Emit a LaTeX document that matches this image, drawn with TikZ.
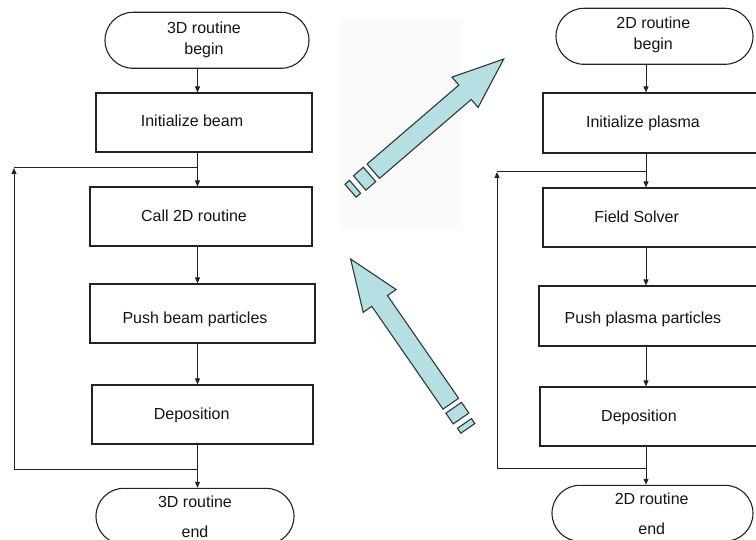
\documentclass[tikz,border=0pt]{standalone}
\usepackage{fontspec}
\setmainfont{Liberation Sans}
\usetikzlibrary{arrows.meta,calc}
\definecolor{ln}{HTML}{222222}
\definecolor{arrfill}{HTML}{B5DFE2}
\definecolor{arrline}{HTML}{2F3838}
\newcommand{\brokenarrow}[1]{%
  \draw[blockarr] (0,-9.5) -- ({#1-51},-9.5) -- ({#1-51},-20) -- (#1,0) -- ({#1-51},20) -- ({#1-51},9.5) -- (0,9.5) -- cycle;
  \draw[blockarr] (-5,-9.5) rectangle (-18,9.5);
  \draw[blockarr] (-24,-8.5) rectangle (-30,8.5);
}
\begin{document}
\begin{tikzpicture}[x=1pt,y=-1pt,
  every node/.style={font=\fontsize{16}{19}\selectfont, text=black!92},
  boxst/.style={draw=ln, line width=1.2pt, rectangle, inner sep=0pt},
  termst/.style={draw=ln, line width=1.1pt, rectangle, rounded corners=28pt, inner sep=0pt, minimum height=56pt},
  lbl/.style={anchor=base, inner sep=0pt},
  flow/.style={draw=ln, line width=1pt, -{Triangle[length=6pt,width=5pt]}},
  plain/.style={draw=ln, line width=1pt},
  blockarr/.style={fill=arrfill, draw=arrline, line width=1.1pt, line join=miter}
]
\useasboundingbox (0,0) rectangle (756,540);
\clip (0,0) rectangle (756,540);
\fill[white] (0,0) rectangle (756,540);
\fill[black!2] (340,20) rectangle (463,230);

% ---- left flowchart (3D)
\node[termst, minimum width=204pt] (t1) at (207,40.3) {};
\node[boxst, minimum width=216pt, minimum height=59pt] (b1) at (204,122.5) {};
\node[boxst, minimum width=222pt, minimum height=59pt] (b2) at (201,216.5) {};
\node[boxst, minimum width=225pt, minimum height=59pt] (b3) at (202.5,313.5) {};
\node[boxst, minimum width=221pt, minimum height=59pt] (b4) at (202.5,414.5) {};
\node[termst, minimum width=198pt] (t2) at (195,516.3) {};

\node[lbl] (t1a) at (204,33.3) {3D routine};
\node[lbl] (t1b) at (204,54.3) {begin};
\node[lbl] (l1) at (192,126.7) {Initialize beam};
\node[lbl] (l2) at (194,221.7) {Call 2D routine};
\node[lbl] (l3) at (195,324) {Push beam particles};
\node[lbl] (l4) at (191.7,420) {Deposition};
\node[lbl] (t2a) at (195,507.3) {3D routine};
\node[lbl] (t2b) at (195,537.3) {end};

\coordinate (cl) at (197.5,0);
\coordinate (j1) at (197.5,168);
\coordinate (j2) at (197.5,469);
\coordinate (lb) at (14,469);
\coordinate (lt) at (14,168);
\draw[flow] (t1.south -| cl) -- (b1.north -| cl);
\draw[plain] (b1.south -| cl) -- (j1);
\draw[flow] (j1) -- (b2.north -| cl);
\draw[flow] (b2.south -| cl) -- (b3.north -| cl);
\draw[flow] (b3.south -| cl) -- (b4.north -| cl);
\draw[plain] (b4.south -| cl) -- (j2);
\draw[flow] (j2) -- (t2.north -| cl);
\draw[flow] (j2) -- (lb) -- (lt);
\draw[plain] (lt) -- (j1);

% ---- right flowchart (2D)
\node[termst, minimum width=197pt] (t3) at (654.5,36.3) {};
\node[boxst, minimum width=217pt, minimum height=60pt] (c1) at (651.5,123) {};
\node[boxst, minimum width=217pt, minimum height=59pt] (c2) at (651.5,217.5) {};
\node[boxst, minimum width=221pt, minimum height=60pt] (c3) at (649.5,316) {};
\node[boxst, minimum width=220pt, minimum height=59pt] (c4) at (650,416.5) {};
\node[termst, minimum width=201pt] (t4) at (652.5,513.3) {};

\node[lbl] (t3a) at (653.3,28.3) {2D routine};
\node[lbl] (t3b) at (653.3,50) {begin};
\node[lbl] (m1) at (643,127.7) {Initialize plasma};
\node[lbl] (m2) at (636.7,222.7) {Field Solver};
\node[lbl] (m3) at (643,324) {Push plasma particles};
\node[lbl] (m4) at (639,421.7) {Deposition};
\node[lbl] (t4a) at (651.7,504.7) {2D routine};
\node[lbl] (t4b) at (651.7,534.7) {end};

\coordinate (cr) at (646,0);
\coordinate (k1) at (646,172);
\coordinate (k2) at (646,468);
\coordinate (rb) at (497,468);
\coordinate (rt) at (497,172);
\draw[flow] (t3.south -| cr) -- (c1.north -| cr);
\draw[plain] (c1.south -| cr) -- (k1);
\draw[flow] (k1) -- (c2.north -| cr);
\draw[flow] (c2.south -| cr) -- (c3.north -| cr);
\draw[flow] (c3.south -| cr) -- (c4.north -| cr);
\draw[plain] (c4.south -| cr) -- (k2);
\draw[flow] (k2) -- (t4.north -| cr);
\draw[flow] (k2) -- (rb) -- (rt);
\draw[plain] (rt) -- (k1);

% ---- block arrows between the routines
\begin{scope}[shift={(373.3,171.2)}, rotate=40.7]
  \brokenarrow{172}
\end{scope}
\begin{scope}[shift={(450.8,403.7)}, rotate=124.7]
  \brokenarrow{176}
\end{scope}
\end{tikzpicture}
\end{document}
